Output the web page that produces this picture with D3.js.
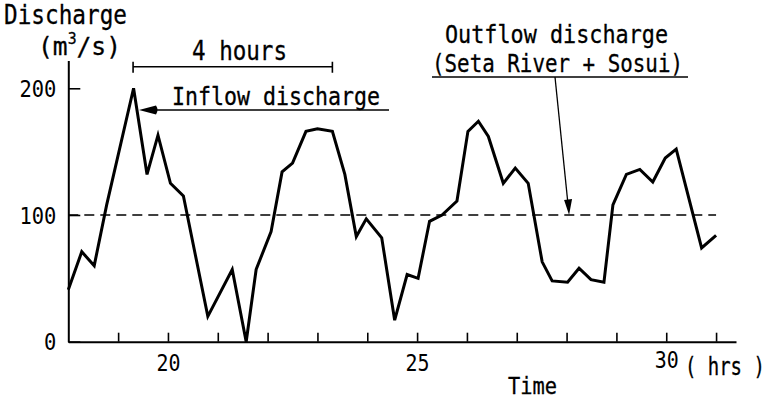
<!DOCTYPE html>
<html>
<head>
<meta charset="utf-8">
<script src="https://cdn.jsdelivr.net/npm/d3@7"></script>
<style>
  body { margin: 0; background: #fff; }
  text { font-family: "DejaVu Sans Mono", monospace; fill: #000; }
</style>
</head>
<body>
<div id="chart"></div>
<script>
// hours since start of record, inflow discharge (m3/s)
const hours = [18.0, 18.27, 18.52, 18.77, 19.31, 19.58, 19.8, 20.05, 20.31, 20.8,
  21.29, 21.57, 21.77, 22.07, 22.29, 22.5, 22.77, 23.0, 23.3, 23.55,
  23.78, 23.98, 24.29, 24.55, 24.8, 25.02, 25.25, 25.5, 25.8, 26.02,
  26.23, 26.43, 26.73, 26.97, 27.23, 27.51, 27.71, 28.02, 28.25, 28.49,
  28.75, 28.93, 29.2, 29.47, 29.73, 29.98, 30.2, 30.71, 31.0];
const inflow = [41, 71, 60, 108, 200, 132, 163, 125, 115, 20,
  57, 0, 57, 87, 134, 141, 166, 168, 166, 132,
  83, 97, 82, 17, 53, 50, 95, 100, 111, 166,
  174, 162, 125, 137, 125, 63, 48, 47, 58, 49,
  47, 108, 132, 136, 126, 145, 152, 74, 84];
const outflow = 100;
const yTicks = [0, 100, 200];
const xTicks = [19, 20, 21, 22, 23, 24, 25, 26, 27, 28, 29, 30, 31];
const xLabels = [20, 25, 30];

const width = 775, height = 401;
const svg = d3.select("#chart").append("svg")
  .attr("width", width).attr("height", height);

const x = d3.scaleLinear().domain([18, 31.4]).range([68.3, 736]);
const y = d3.scaleLinear().domain([0, 222]).range([341.7, 60.4]);

function label(txt, px, py, size, len, anchor) {
  return svg.append("text")
    .attr("x", px).attr("y", py)
    .attr("font-size", size)
    .attr("text-anchor", anchor || "start")
    .attr("textLength", len)
    .attr("lengthAdjust", "spacingAndGlyphs")
    .attr("stroke", "#000").attr("stroke-width", 0.3)
    .text(txt);
}

// axes
const xAxis = svg.append("g")
  .attr("transform", `translate(0,${y(0)})`)
  .call(d3.axisBottom(x).tickValues(xTicks).tickSize(-9).tickSizeOuter(0)
    .tickFormat(d => xLabels.includes(d) ? d : ""));
xAxis.selectAll("text")
  .attr("dy", null).attr("y", d => d === 30 ? 26 : 29)
  .attr("font-size", 23).attr("font-family", "DejaVu Sans Mono")
  .attr("textLength", d => xLabels.includes(d) ? 24 : null)
  .attr("lengthAdjust", "spacingAndGlyphs");

const yAxis = svg.append("g")
  .attr("transform", `translate(${x(18)},0)`)
  .call(d3.axisLeft(y).tickValues(yTicks).tickSize(-12).tickSizeOuter(0));
yAxis.selectAll("text")
  .attr("x", -12).attr("dy", "0.36em")
  .attr("font-size", 23).attr("font-family", "DejaVu Sans Mono")
  .attr("textLength", d => String(d).length * 12.3)
  .attr("lengthAdjust", "spacingAndGlyphs");
svg.selectAll(".domain").attr("stroke", "#000").attr("stroke-width", 2);
svg.selectAll(".tick line").attr("stroke", "#000").attr("stroke-width", 1.6);

// outflow discharge (dashed)
svg.append("line")
  .attr("x1", x(18)).attr("x2", x(31))
  .attr("y1", y(outflow)).attr("y2", y(outflow))
  .attr("stroke", "#000").attr("stroke-width", 1.6)
  .attr("stroke-dasharray", "10,6");

// inflow discharge
const data = hours.map((h, i) => ({ hour: h, q: inflow[i] }));
svg.append("path")
  .datum(data)
  .attr("fill", "none")
  .attr("stroke", "#000")
  .attr("stroke-width", 3)
  .attr("stroke-linejoin", "miter")
  .attr("d", d3.line().x(d => x(d.hour)).y(d => y(d.q)));

// 4 hours bracket
const by = 66.7;
svg.append("path")
  .attr("d", `M${x(19.3)},${by}H${x(23.3)}M${x(19.3)},${by - 5}v11M${x(23.3)},${by - 5}v11`)
  .attr("stroke", "#000").attr("stroke-width", 1.6).attr("fill", "none");
label("4 hours", 192, 60, 26, 95);

// inflow label and arrow
label("Inflow discharge", 172, 105, 24, 208);
const ay = 110;
svg.append("line").attr("x1", 150).attr("x2", 389).attr("y1", ay).attr("y2", ay)
  .attr("stroke", "#000").attr("stroke-width", 1.6);
svg.append("path")
  .attr("d", `M139,${ay}L156,${ay - 4.5}Q159,${ay} 156,${ay + 4.5}Z`)
  .attr("fill", "#000");

// outflow label and arrow
label("Outflow discharge", 445, 43, 25, 223);
label("(Seta River + Sosui)", 432, 72, 25, 251);
svg.append("line").attr("x1", 432).attr("x2", 688).attr("y1", 77).attr("y2", 77)
  .attr("stroke", "#000").attr("stroke-width", 1.6);
const tipX = x(28.05), tipY = y(outflow);
svg.append("line").attr("x1", 555).attr("y1", 77).attr("x2", tipX - 1.3).attr("y2", tipY - 13)
  .attr("stroke", "#000").attr("stroke-width", 1.3);
svg.append("path")
  .attr("d", `M${tipX},${tipY}L${tipX - 5},${tipY - 15}L${tipX + 3},${tipY - 16}Z`)
  .attr("fill", "#000");

// axis titles
label("Discharge", 4, 24, 27, 123);
const unit = svg.append("text").attr("x", 38).attr("y", 55).attr("font-size", 25)
  .attr("stroke", "#000").attr("stroke-width", 0.3)
  .attr("textLength", 83).attr("lengthAdjust", "spacingAndGlyphs");
unit.append("tspan").text("(m");
unit.append("tspan").attr("font-size", 15).attr("dy", -11).text("3");
unit.append("tspan").attr("dy", 11).text("/s)");
svg.append("text")
  .attr("transform", "translate(685,375) scale(0.79,1)")
  .attr("font-size", 24)
  .attr("stroke", "#000").attr("stroke-width", 0.3)
  .text("( hrs )");
label("Time", 508, 394, 23, 49);
</script>
</body>
</html>
